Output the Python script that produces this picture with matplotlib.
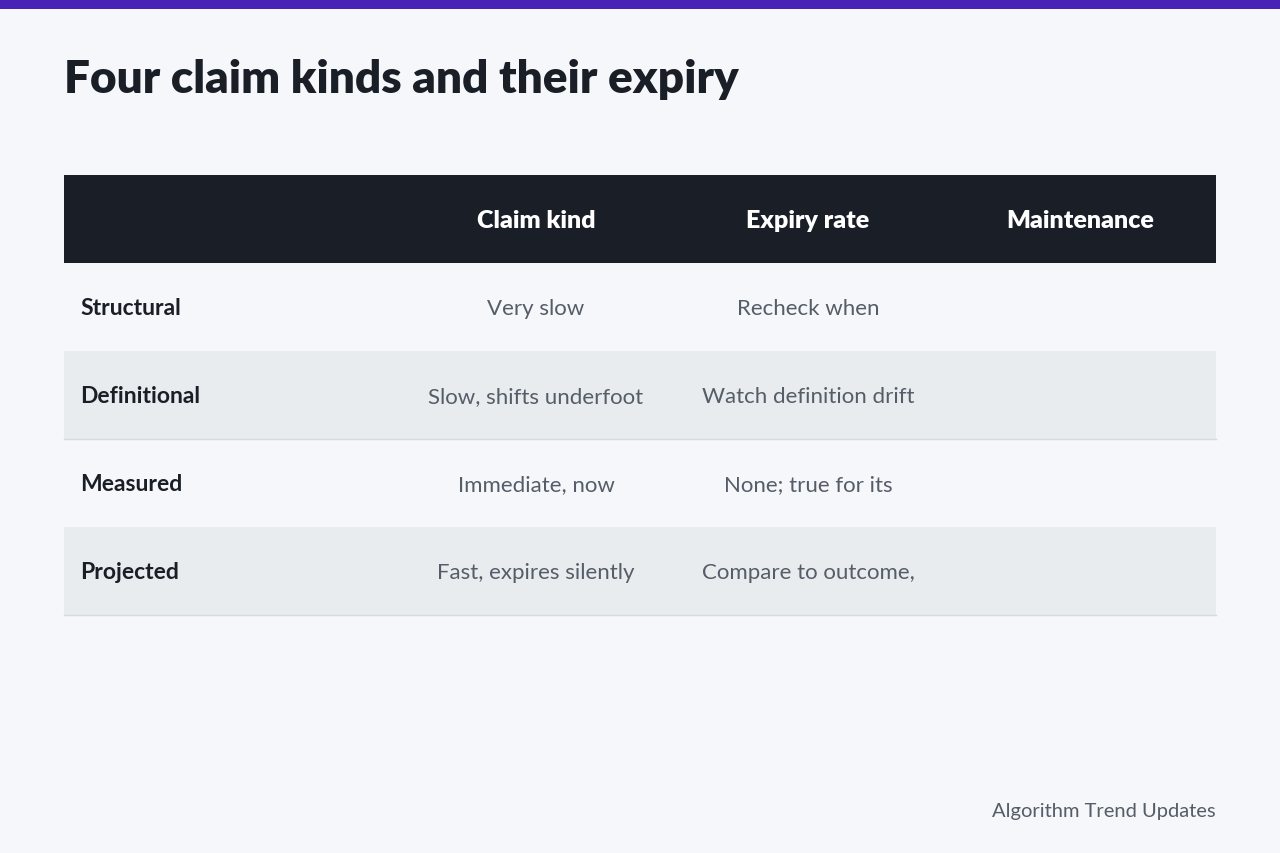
import matplotlib
matplotlib.use("Agg")
import matplotlib.pyplot as plt
from matplotlib.patches import Rectangle

title = "Four claim kinds and their expiry"
headers = ["", "Claim kind", "Expiry rate", "Maintenance"]
row_labels = ["Structural", "Definitional", "Measured", "Projected"]
col_claim = ["Very slow", "Slow, shifts underfoot", "Immediate, now", "Fast, expires silently"]
col_expiry = ["Recheck when", "Watch definition drift", "None; true for its", "Compare to outcome,"]
col_maint = ["", "", "", ""]
footer = "Algorithm Trend Updates"

plt.rcParams['font.family'] = ['Lato', 'DejaVu Sans']
fig = plt.figure(figsize=(12.8, 8.54), dpi=100)
fig.patch.set_facecolor("#f5f7fa")
ax = fig.add_axes([0, 0, 1, 1])
ax.set_xlim(0, 1280); ax.set_ylim(854, 0); ax.axis("off")

ax.add_patch(Rectangle((0, 0), 1280, 10, color="#4a22b5", lw=0))
ax.text(64, 80, title, fontsize=33, fontweight="heavy", color="#1a1f27", va="center", ha="left")

x0, x1 = 64, 1216
hy, hh, rh = 176, 88, 88
ax.add_patch(Rectangle((x0, hy), x1 - x0, hh, color="#1a1f27", lw=0))
centers = [None, 536, 808, 1080]
for h, cx in zip(headers, centers):
    if cx:
        ax.text(cx, hy + hh / 2 + 1, h, fontsize=18, fontweight="heavy", color="white", ha="center", va="center")

for i, lab in enumerate(row_labels):
    y = hy + hh + i * rh
    if i % 2 == 1:
        ax.add_patch(Rectangle((x0, y), x1 - x0, rh, color="#e8ecef", lw=0))
        ax.plot([x0, x1], [y + rh, y + rh], color="#d5dbe0", lw=1)
    cy = y + rh / 2 + 1
    ax.text(80, cy, lab, fontsize=16.5, fontweight="bold", color="#1a1f27", ha="left", va="center")
    for val, cx in zip([col_claim[i], col_expiry[i], col_maint[i]], centers[1:]):
        ax.text(cx, cy, val, fontsize=16, color="#555d68", ha="center", va="center", fontweight="normal")

ax.text(1216, 812, footer, fontsize=14.5, color="#555d68", ha="right", va="center")
fig.savefig("out.png", dpi=100, facecolor=fig.get_facecolor())
